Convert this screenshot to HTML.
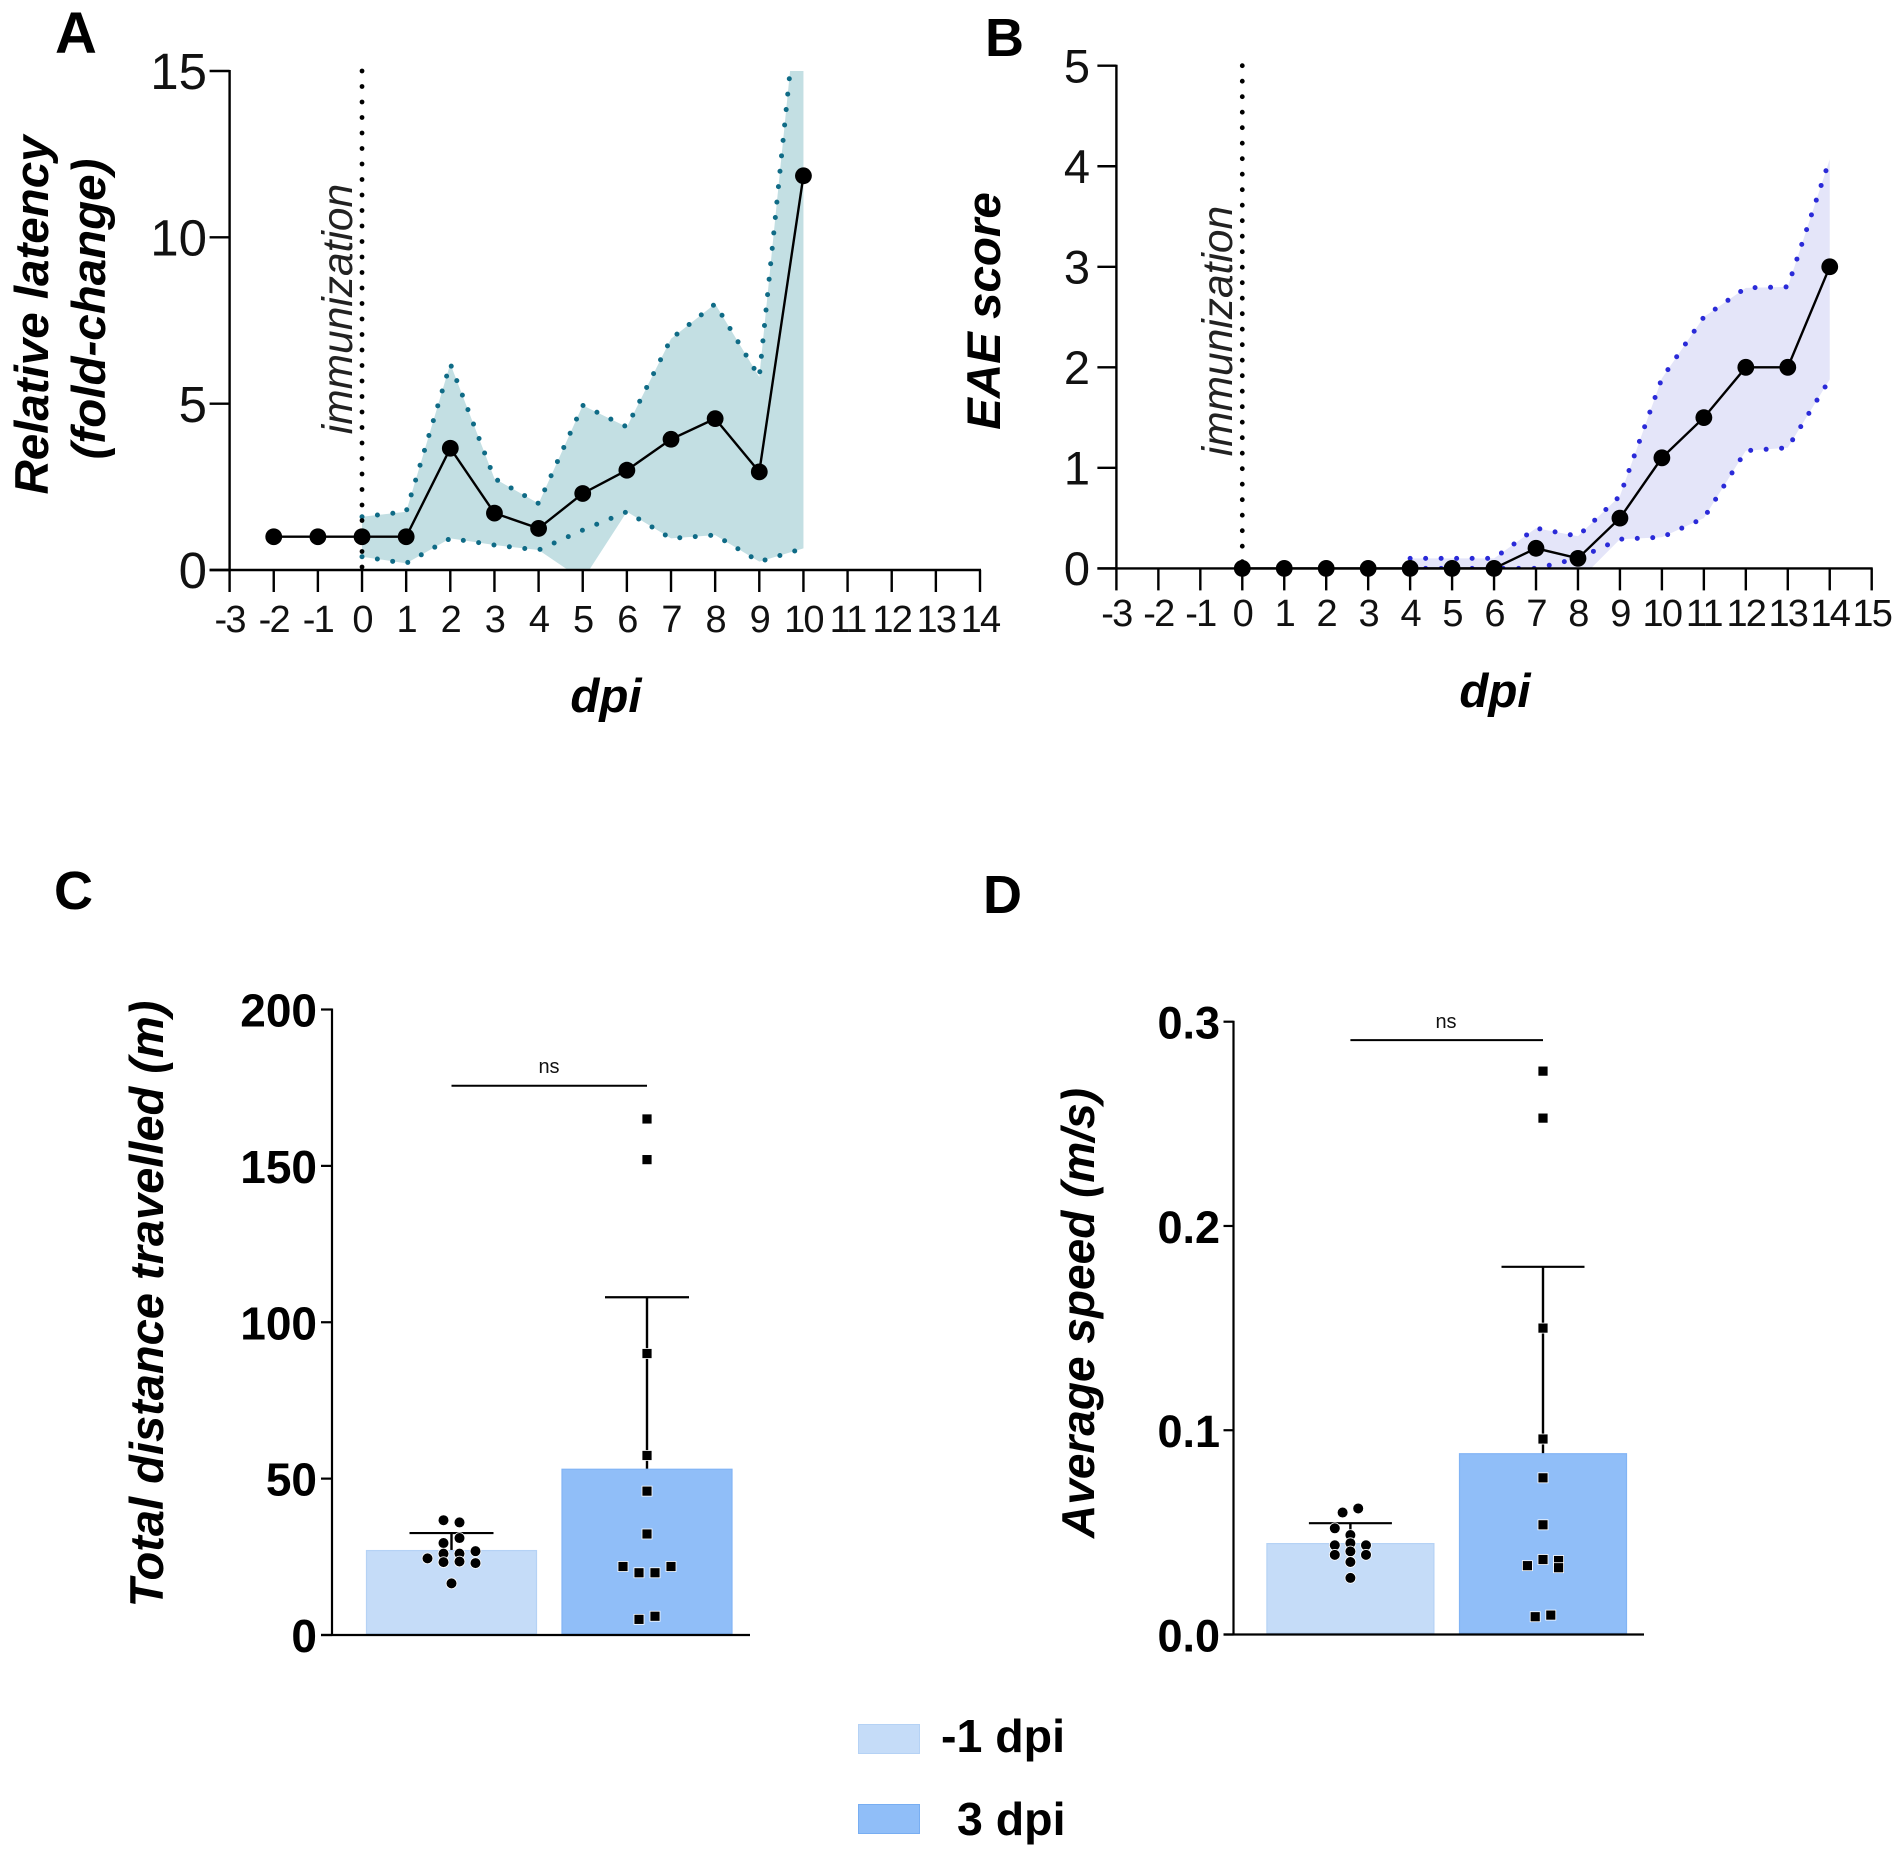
<!DOCTYPE html>
<html lang="en">
<head>
<meta charset="utf-8">
<title>Panels A-D: latency, EAE score, distance and speed</title>
<style>
  html, body { margin: 0; padding: 0; background: #fff; }
  svg { display: block; font-family: "Liberation Sans", Arial, sans-serif; }
  .letter { font-weight: 700; font-size: 54px; fill: #000; }
  .title { font-weight: 700; font-style: italic; font-size: 47.5px; fill: #000; }
  .immun { font-style: italic; font-size: 42.5px; fill: #222; }
  .ns { font-size: 20px; fill: #111; }
  .legend-text { font-weight: 700; font-size: 46.5px; fill: #000; }
</style>
</head>
<body>
<svg id="figure" xmlns="http://www.w3.org/2000/svg" width="1902" height="1858" viewBox="0 0 1902 1858">
  <rect width="1902" height="1858" fill="#fff"/>
  <defs>
    <clipPath id="clip-a"><rect x="229" y="71" width="752" height="499"/></clipPath>
    <clipPath id="clip-b"><rect x="1116" y="60" width="756" height="508.5"/></clipPath>
  </defs>
  <g id="layer-a"></g>
  <g id="layer-b"></g>
  <g id="layer-c"></g>
  <g id="layer-d"></g>

  <text class="letter" x="55" y="53" style="font-size:58px">A</text>
  <text class="letter" x="985" y="56">B</text>
  <text class="letter" x="54" y="909">C</text>
  <text class="letter" x="983" y="913">D</text>

  <text class="title" text-anchor="middle" transform="translate(48 315) rotate(-90)">Relative latency</text>
  <text class="title" text-anchor="middle" transform="translate(105 309) rotate(-90)">(fold-change)</text>
  <text class="title" text-anchor="middle" transform="translate(1000 311) rotate(-90)">EAE score</text>
  <text class="title" text-anchor="middle" style="font-size:47px" transform="translate(163 1304) rotate(-90)">Total distance travelled (m)</text>
  <text class="title" text-anchor="middle" style="font-size:46px" transform="translate(1094 1313) rotate(-90)">Average speed (m/s)</text>

  <text class="title" text-anchor="middle" x="606" y="712">dpi</text>
  <text class="title" text-anchor="middle" x="1495" y="707">dpi</text>

  <text class="immun" text-anchor="middle" transform="translate(352 309) rotate(-90)">immunization</text>
  <text class="immun" text-anchor="middle" transform="translate(1232 331) rotate(-90)">immunization</text>

  <text class="ns" text-anchor="middle" x="549" y="1073">ns</text>
  <text class="ns" text-anchor="middle" x="1446" y="1028">ns</text>

  <g>
    <rect x="858.5" y="1724.5" width="61" height="29" fill="#c5dcf8" stroke="#b5d2f5"/>
    <text class="legend-text" x="941" y="1752">-1 dpi</text>
    <rect x="858.5" y="1804.5" width="61" height="29" fill="#90bef8" stroke="#78aef2"/>
    <text class="legend-text" x="957" y="1835">3 dpi</text>
  </g>
</svg>

<script>
// ---------- Panel A data ----------
const xTicksA = [-3,-2,-1,0,1,2,3,4,5,6,7,8,9,10,11,12,13,14];
const yTicksA = [0,5,10,15];
const meanDaysA = [-2,-1,0,1,2,3,4,5,6,7,8,9,10];
const meanA = [1,1,1,1,3.66,1.71,1.25,2.3,3.0,3.93,4.55,2.95,11.85];
const bandDaysA = [0,1,2,3,4,5,6,7,8,9,10];
const upperA = [1.6,1.75,6.2,2.75,2.0,4.95,4.3,6.95,8.0,5.8,19];
const lowerA = [0.4,0.2,0.95,0.75,0.6,1.2,1.75,0.95,1.05,0.25,0.65];
const lowerFillA = [0.4,0.2,0.95,0.75,0.6,-0.3,1.75,0.95,1.05,0.25,0.65];

// ---------- Panel B data ----------
const xTicksB = [-3,-2,-1,0,1,2,3,4,5,6,7,8,9,10,11,12,13,14,15];
const yTicksB = [0,1,2,3,4,5];
const meanDaysB = [0,1,2,3,4,5,6,7,8,9,10,11,12,13,14];
const meanB = [0,0,0,0,0,0,0,0.2,0.1,0.5,1.1,1.5,2,2,3];
const bandDaysB = [4,5,6,7,8,9,10,11,12,13,14];
const upperB = [0.1,0.1,0.1,0.4,0.32,0.72,1.89,2.5,2.79,2.8,4.07];
const lowerB = [0,0,0,0,0.1,0.29,0.31,0.5,1.17,1.2,1.88];
const lowerFillB = [0,0,0,0,-0.13,0.29,0.31,0.5,1.17,1.2,1.88];

// ---------- Panel C data ----------
const yTicksC = [0,50,100,150,200];
const barMeanC = [27,53];
const barUpperC = [32.6,108];
const sigValueC = 175.6;
const swarm1C = [36.7,36,31,29.4,26,26,26.8,24.5,23.3,23.5,23,16.5];
const swarm1SlotC = [-1,1,1,-1,-1,1,3,-3,-1,1,3,0];
const swarm2C = [165,152,90,57.4,46,32.3,21.9,21.9,19.9,19.9,6,5];
const swarm2SlotC = [0,0,0,0,0,0,-3,3,-1,1,1,-1];

// ---------- Panel D data ----------
const yTicksD = ["0.0","0.1","0.2","0.3"];
const barMeanD = [0.0445,0.0885];
const barUpperD = [0.0545,0.18];
const sigValueD = 0.291;
const swarm1D = [0.0597,0.0617,0.052,0.0487,0.0447,0.0437,0.0437,0.0407,0.039,0.039,0.0355,0.0277];
const swarm1SlotD = [-1,1,-2,0,0,-2,2,0,-2,2,0,0];
const swarm2D = [0.2758,0.2528,0.15,0.0957,0.0767,0.0537,0.0367,0.0337,0.0362,0.0327,0.0095,0.0087];
const swarm2SlotD = [0,0,0,0,0,0,0,-2,2,2,1,-1];

const NS = 'http://www.w3.org/2000/svg';
function linear(d0, d1, r0, r1) {
  return function (v) { return r0 + (v - d0) * (r1 - r0) / (d1 - d0); };
}
function mk(parent, tag, props) {
  const el = document.createElementNS(NS, tag);
  for (const k in props) el.setAttribute(k, props[k]);
  parent.appendChild(el);
  return el;
}
function pathFrom(xs, ys, xf, yf) {
  return xs.map(function (x, i) { return (i ? 'L' : 'M') + xf(x).toFixed(2) + ' ' + yf(ys[i]).toFixed(2); }).join(' ');
}

function drawLinePanel(id, cfg) {
  const g = document.getElementById(id);
  const xf = cfg.xf, yf = cfg.yf;

  const band = mk(g, 'path', {
    d: pathFrom(cfg.bandDays, cfg.upper, xf, yf) + ' ' +
       pathFrom(cfg.bandDays.slice().reverse(), cfg.lowerFill.slice().reverse(), xf, yf).replace('M', 'L') + ' Z',
    fill: cfg.fill, 'clip-path': 'url(#' + cfg.clip + ')'
  });
  
  

  const up = mk(g, 'path', {
    d: pathFrom(cfg.bandDays, cfg.upper, xf, yf), fill: 'none', stroke: cfg.dot,
    'stroke-width': 5, 'stroke-linecap': 'round', 'stroke-dasharray': '0 15.5', 'clip-path': 'url(#' + cfg.clip + ')'
  });
  
  

  const lo = mk(g, 'path', {
    d: pathFrom(cfg.bandDays, cfg.lower, xf, yf), fill: 'none', stroke: cfg.dot,
    'stroke-width': 5, 'stroke-linecap': 'round', 'stroke-dasharray': '0 15.5', 'clip-path': 'url(#' + cfg.clip + ')'
  });
  
  

  const marker = mk(g, 'line', {
    x1: xf(0), x2: xf(0), y1: yf(cfg.yMax), y2: yf(0), stroke: '#000',
    'stroke-width': 4.8, 'stroke-linecap': 'round', 'stroke-dasharray': '0 15.5'
  });
  
  

  // axes
  const yAxis = mk(g, 'line', { x1: cfg.xLeft, x2: cfg.xLeft, y1: yf(cfg.yMax) - 1, y2: yf(0) + 1, stroke: '#000', 'stroke-width': 2.4 });
  
  
  const xAxis = mk(g, 'line', { x1: cfg.xLeft - cfg.yTickLen, x2: xf(cfg.xTicks[cfg.xTicks.length - 1]) + 1, y1: yf(0), y2: yf(0), stroke: '#000', 'stroke-width': 2.4 });
  
  

  cfg.yTicks.forEach(function (t) {
    const tick = mk(g, 'line', { x1: cfg.xLeft - cfg.yTickLen, x2: cfg.xLeft, y1: yf(t), y2: yf(t), stroke: '#000', 'stroke-width': 2.4 });
    
    
    const lab = mk(g, 'text', { x: cfg.yLabelRight, y: yf(t) + cfg.yLabelSize * 0.355, 'text-anchor': 'end', 'font-size': cfg.yLabelSize, fill: '#111' });
    lab.textContent = String(t);
    
    
  });
  cfg.xTicks.forEach(function (t) {
    const tick = mk(g, 'line', { x1: xf(t), x2: xf(t), y1: yf(0), y2: yf(0) + 22, stroke: '#000', 'stroke-width': 2.4 });
    
    
    const lab = mk(g, 'text', { x: xf(t), y: cfg.xLabelY, 'text-anchor': 'middle', 'font-size': 38, 'letter-spacing': '-1.8', fill: '#111' });
    lab.textContent = String(t);
    
    
  });

  const line = mk(g, 'path', { d: pathFrom(cfg.meanDays, cfg.mean, xf, yf), fill: 'none', stroke: '#000', 'stroke-width': 2.4 });
  
  
  cfg.meanDays.forEach(function (d, i) {
    const c = mk(g, 'circle', { cx: xf(d), cy: yf(cfg.mean[i]), r: 8.4, fill: '#000' });
    
    
  });
}

drawLinePanel('layer-a', {
  xf: linear(-3, 14, 229.6, 980), yf: linear(0, 15, 570, 71), xLeft: 229.6, yMax: 15,
  yTickLen: 20, yLabelRight: 207, yLabelSize: 51, xLabelY: 632, clip: 'clip-a',
  fill: '#c3dfe3', dot: '#0f6b86',
  xTicks: xTicksA, yTicks: yTicksA, meanDays: meanDaysA, mean: meanA,
  bandDays: bandDaysA, upper: upperA, lower: lowerA, lowerFill: lowerFillA
});
drawLinePanel('layer-b', {
  xf: linear(-3, 15, 1116.4, 1871.7), yf: linear(0, 5, 568.4, 65.7), xLeft: 1116.4, yMax: 5,
  yTickLen: 19, yLabelRight: 1090, yLabelSize: 47, xLabelY: 626, clip: 'clip-b',
  fill: '#e4e5f9', dot: '#2a2ad8',
  xTicks: xTicksB, yTicks: yTicksB, meanDays: meanDaysB, mean: meanB,
  bandDays: bandDaysB, upper: upperB, lower: lowerB, lowerFill: lowerFillB
});

function drawBarPanel(id, cfg) {
  const g = document.getElementById(id);
  const yf = cfg.yf;
  const catX = function (i) { return cfg.cat0 + i * cfg.catStep; };
  const fills = ['#c5dcf8', '#90bef8'];
  const edges = ['#b5d2f5', '#82b4f5'];

  cfg.barUpper.forEach(function (u, i) {
    const stem = mk(g, 'line', { x1: catX(i), x2: catX(i), y1: yf(u), y2: yf(cfg.barMean[i]), stroke: '#000', 'stroke-width': 2.4 });
    
    
  });
  cfg.barMean.forEach(function (m, i) {
    const b = mk(g, 'rect', {
      x: catX(i) - cfg.barW / 2, y: yf(m), width: cfg.barW, height: yf(0) - yf(m) - 1.5,
      fill: fills[i], stroke: edges[i], 'stroke-width': 1.2
    });
    
    
  });
  cfg.barUpper.forEach(function (u, i) {
    const cap = mk(g, 'line', { x1: catX(i) - cfg.capW, x2: catX(i) + cfg.capW, y1: yf(u), y2: yf(u), stroke: '#000', 'stroke-width': 2.2 });
    
    
  });

  const yAxis = mk(g, 'line', { x1: cfg.xLeft, x2: cfg.xLeft, y1: yf(cfg.yMax) - 1, y2: yf(0) + 1, stroke: '#000', 'stroke-width': 2.2 });
  
  
  const xAxis = mk(g, 'line', { x1: cfg.xLeft - cfg.tickLen, x2: cfg.xEnd, y1: yf(0), y2: yf(0), stroke: '#000', 'stroke-width': 2.2 });
  
  

  cfg.yTicks.forEach(function (t) {
    const v = parseFloat(t);
    const tick = mk(g, 'line', { x1: cfg.xLeft - cfg.tickLen, x2: cfg.xLeft, y1: yf(v), y2: yf(v), stroke: '#000', 'stroke-width': 2.2 });
    
    
    const lab = mk(g, 'text', { x: cfg.labelRight, y: yf(v) + 17, 'text-anchor': 'end', 'font-size': cfg.labelSize, 'font-weight': 700, fill: '#000' });
    lab.textContent = String(t);
    
    
  });

  const sig = mk(g, 'line', { x1: catX(0), x2: catX(1), y1: yf(cfg.sigValue), y2: yf(cfg.sigValue), stroke: '#000', 'stroke-width': 2 });
  
  

  cfg.swarm1.forEach(function (v, i) {
    const c = mk(g, 'circle', { cx: catX(0) + cfg.swarm1Slot[i] * cfg.slotW, cy: yf(v), r: 5.4, fill: '#000', stroke: '#fff', 'stroke-width': 0.8 });
    
    
  });
  cfg.swarm2.forEach(function (v, i) {
    const s = mk(g, 'rect', { x: catX(1) + cfg.swarm2Slot[i] * cfg.slotW - 5, y: yf(v) - 5, width: 10, height: 10, fill: '#000', stroke: '#fff', 'stroke-width': 0.8 });
    
    
  });
}

drawBarPanel('layer-c', {
  yf: linear(0, 200, 1635, 1009.5), xLeft: 332, xEnd: 750, tickLen: 11, yMax: 200,
  cat0: 451.5, catStep: 195.5, barW: 170, capW: 42, slotW: 8, labelRight: 317, labelSize: 46,
  yTicks: yTicksC, barMean: barMeanC, barUpper: barUpperC, sigValue: sigValueC,
  swarm1: swarm1C, swarm1Slot: swarm1SlotC, swarm2: swarm2C, swarm2Slot: swarm2SlotC
});
drawBarPanel('layer-d', {
  yf: linear(0, 0.3, 1634.5, 1021.7), xLeft: 1233.5, xEnd: 1644, tickLen: 10, yMax: 0.3,
  cat0: 1350.4, catStep: 192.6, barW: 167, capW: 41.5, slotW: 7.8, labelRight: 1220, labelSize: 45,
  yTicks: yTicksD, barMean: barMeanD, barUpper: barUpperD, sigValue: sigValueD,
  swarm1: swarm1D, swarm1Slot: swarm1SlotD, swarm2: swarm2D, swarm2Slot: swarm2SlotD
});
</script>
</body>
</html>
